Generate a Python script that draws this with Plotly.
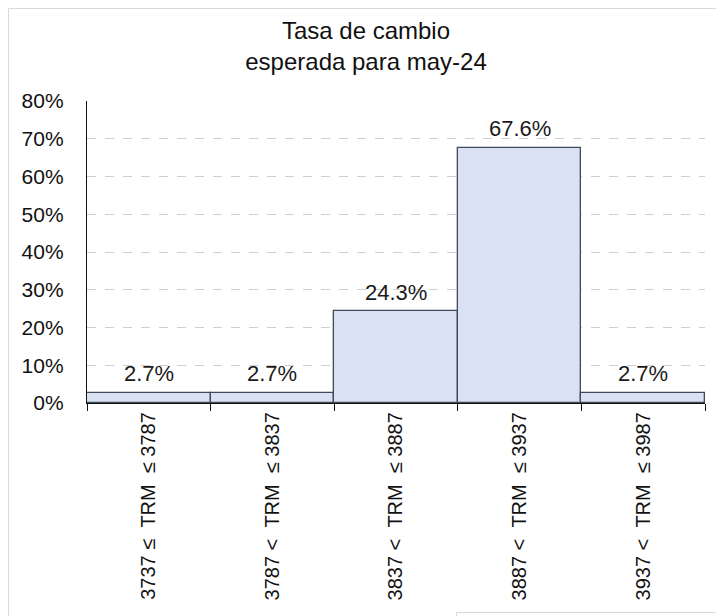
import plotly.graph_objects as go

categories = [
    "3737 ≤ TRM ≤ 3787",
    "3787 < TRM ≤ 3837",
    "3837 < TRM ≤ 3887",
    "3887 < TRM ≤ 3937",
    "3937 < TRM ≤ 3987",
]
values = [2.7, 2.7, 24.3, 67.6, 2.7]
value_labels = ["2.7%", "2.7%", "24.3%", "67.6%", "2.7%"]
y_ticks = [0, 10, 20, 30, 40, 50, 60, 70, 80]
y_tick_labels = [f"{v}%" for v in y_ticks]

NB = "\u00a0"


def spaced(label):
    a, op1, trm, op2, b = label.split(" ")
    return (a + NB + op1 + NB + NB + trm + NB + NB + op2 + NB + b)


tick_text = [spaced(c) for c in categories]

FONT = "Liberation Sans, Arial, sans-serif"
W, H = 716, 608           # page has an 8px body margin
ML, MR, MT, MB = 79, 19, 93, 213
PW, PH = W - ML - MR, H - MT - MB

fig = go.Figure(
    go.Bar(
        x=categories,
        y=values,
        marker=dict(color="#D9E1F2", line=dict(color="#3E4A5C", width=1.3)),
        width=1.0,
        hoverinfo="x+y",
    )
)

for c, v, t in zip(categories, values, value_labels):
    fig.add_annotation(x=c, y=v, text=t, showarrow=False, yanchor="middle",
                       yshift=19, font=dict(size=22, color="#1A1A1A", family=FONT))

fig.update_layout(
    width=W,
    height=H,
    paper_bgcolor="white",
    plot_bgcolor="white",
    font=dict(family=FONT, size=21, color="#111111"),
    margin=dict(l=ML, r=MR, t=MT, b=MB, autoexpand=False),
    bargap=0,
    showlegend=False,
    title=dict(
        text="Tasa de cambio<br>esperada para may-24",
        x=0.5,
        xanchor="center",
        y=1 - 30.8 / H,
        yanchor="top",
        font=dict(size=24, color="#111111", family=FONT),
    ),
)

fig.update_xaxes(
    tickmode="array",
    tickvals=categories,
    ticktext=tick_text,
    tickangle=-90,
    tickson="boundaries",
    ticks="outside",
    ticklen=7,
    tickcolor="#111111",
    tickwidth=1.3,
    showline=True,
    linecolor="#111111",
    linewidth=1.3,
    showgrid=False,
    tickfont=dict(size=20, color="#111111", family=FONT),
    automargin=False,
)

fig.update_yaxes(
    range=[0, 80],
    tickmode="array",
    tickvals=y_ticks,
    ticktext=y_tick_labels,
    showline=True,
    linecolor="#111111",
    linewidth=1.3,
    showgrid=True,
    gridcolor="#CFCFCF",
    griddash="dash",
    gridwidth=1,
    ticks="",
    ticklabelstandoff=18,
    tickfont=dict(size=21, color="#111111", family=FONT),
    zeroline=False,
    automargin=False,
)

# outer frame (left and top edges) and the small box at bottom right
def px_x(p):
    return (p - ML) / PW


def px_y(p):
    return (H - MB - p) / PH


frame = dict(color="#D9D9D9", width=1)
fig.add_shape(type="line", xref="paper", yref="paper",
              x0=px_x(0.5), x1=px_x(0.5), y0=px_y(0.5), y1=px_y(H), line=frame)
fig.add_shape(type="line", xref="paper", yref="paper",
              x0=px_x(0.5), x1=px_x(W), y0=px_y(0.5), y1=px_y(0.5), line=frame)
fig.add_shape(type="line", xref="paper", yref="paper",
              x0=px_x(448), x1=px_x(W), y0=px_y(604.5), y1=px_y(604.5), line=frame)
fig.add_shape(type="line", xref="paper", yref="paper",
              x0=px_x(448.5), x1=px_x(448.5), y0=px_y(604.5), y1=px_y(H), line=frame)

fig.write_html("out.html")
